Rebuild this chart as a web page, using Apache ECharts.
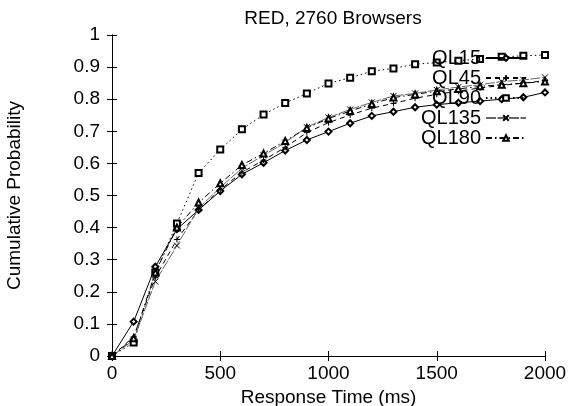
<!DOCTYPE html>
<html>
<head>
<meta charset="utf-8">
<script src="https://cdn.jsdelivr.net/npm/echarts@6/dist/echarts.min.js"></script>
<style>
  html, body { margin: 0; padding: 0; background: #fff; }
  #chart { width: 568px; height: 406px; }
</style>
</head>
<body>
<div id="chart"></div>
<script>
// response time (ms) at which each CDF point was sampled
const times = [0, 100, 200, 300, 400, 500, 600, 700, 800, 900, 1000,
               1100, 1200, 1300, 1400, 1500, 1600, 1700, 1800, 1900, 2000];

const ql15  = [0, 0.107, 0.278, 0.395, 0.455, 0.514, 0.566, 0.602, 0.640, 0.673, 0.699,
               0.725, 0.748, 0.761, 0.775, 0.783, 0.789, 0.794, 0.800, 0.806, 0.821];
const ql45  = [0, 0.060, 0.245, 0.363, 0.455, 0.518, 0.572, 0.610, 0.650, 0.696, 0.727,
               0.751, 0.772, 0.787, 0.803, 0.815, 0.825, 0.835, 0.843, 0.850, 0.858];
const ql90  = [0, 0.042, 0.260, 0.413, 0.570, 0.643, 0.706, 0.752, 0.788, 0.818, 0.849,
               0.867, 0.887, 0.896, 0.909, 0.914, 0.920, 0.925, 0.932, 0.935, 0.938];
const ql135 = [0, 0.050, 0.232, 0.344, 0.460, 0.525, 0.585, 0.625, 0.665, 0.713, 0.743,
               0.768, 0.790, 0.810, 0.818, 0.829, 0.838, 0.845, 0.855, 0.860, 0.868];
const ql180 = [0, 0.055, 0.260, 0.400, 0.478, 0.538, 0.595, 0.631, 0.670, 0.710, 0.740,
               0.763, 0.785, 0.805, 0.815, 0.825, 0.832, 0.840, 0.845, 0.850, 0.855];

const seriesNames = ['QL15', 'QL45', 'QL90', 'QL135', 'QL180'];

const chart = echarts.init(document.getElementById('chart'));
const font = 'Liberation Sans, Arial, sans-serif';

const pairs = vals => times.map((t, i) => [t, vals[i]]);

// gnuplot-ish point types and dash patterns
const styles = [
  { vals: ql15,  symbol: 'emptyDiamond', dash: 'solid',       color: '#000' },
  { vals: ql45,  symbol: 'path://M5,0L5,10M0,5L10,5', dash: [5, 4], color: '#000' },
  { vals: ql90,  symbol: 'emptyRect',    dash: [1.5, 3],      color: '#000' },
  { vals: ql135, symbol: 'path://M0,0L10,10M0,10L10,0', dash: [10, 1.5], color: '#666' },
  { vals: ql180, symbol: 'emptyTriangle', dash: [6, 3, 1.5, 3], color: '#000' }
];

const hiddenLabels = { show: false };
const insideTicks = { inside: true, length: 5, lineStyle: { color: '#000' } };
const axisLine = { lineStyle: { color: '#000', width: 1 } };

const option = {
  animation: false,
  backgroundColor: '#fff',
  textStyle: { fontFamily: font },
  title: {
    text: 'RED, 2760 Browsers',
    left: 328,
    textAlign: 'center',
    top: 4,
    textStyle: { fontFamily: font, fontSize: 19, fontWeight: 'normal', color: '#000' }
  },
  legend: {
    data: seriesNames,
    orient: 'vertical',
    align: 'right',
    right: 36,
    top: 43,
    itemWidth: 40,
    itemHeight: 7,
    itemGap: 0,
    textStyle: { fontFamily: font, fontSize: 20, color: '#000' }
  },
  grid: { left: 112, right: 23, top: 35, bottom: 50, show: false, outerBoundsMode: 'none' },
  xAxis: [
    {
      type: 'value', min: 0, max: 2000, interval: 500,
      name: 'Response Time (ms)', nameLocation: 'middle', nameGap: 26,
      nameTextStyle: { fontFamily: font, fontSize: 19, color: '#000' },
      axisLine: axisLine, axisTick: insideTicks,
      axisLabel: { fontFamily: font, fontSize: 19, color: '#000', margin: 8,
                   formatter: v => String(v) },
      splitLine: { show: false }
    },
    {
      type: 'value', min: 0, max: 2000, interval: 500, position: 'top',
      axisLine: axisLine, axisTick: insideTicks, axisLabel: hiddenLabels,
      splitLine: { show: false }
    }
  ],
  yAxis: [
    {
      type: 'value', min: 0, max: 1, interval: 0.1,
      name: 'Cumulative Probability', nameLocation: 'middle', nameGap: 88,
      nameTextStyle: { fontFamily: font, fontSize: 19, color: '#000' },
      axisLine: axisLine, axisTick: insideTicks,
      axisLabel: { fontFamily: font, fontSize: 19, color: '#000', margin: 12 },
      splitLine: { show: false }
    },
    {
      type: 'value', min: 0, max: 1, interval: 0.1, position: 'right',
      axisLine: axisLine, axisTick: insideTicks, axisLabel: hiddenLabels,
      splitLine: { show: false }
    }
  ],
  series: styles.map((s, i) => ({
    name: seriesNames[i],
    type: 'line',
    xAxisIndex: 0,
    yAxisIndex: 0,
    data: pairs(s.vals),
    symbol: s.symbol,
    symbolSize: 6,
    showAllSymbol: true,
    lineStyle: { color: s.color, width: 1, type: s.dash },
    itemStyle: { color: '#000', borderColor: '#000', borderWidth: 1 },
    emphasis: { disabled: true }
  }))
};

chart.setOption(option);
</script>
</body>
</html>
